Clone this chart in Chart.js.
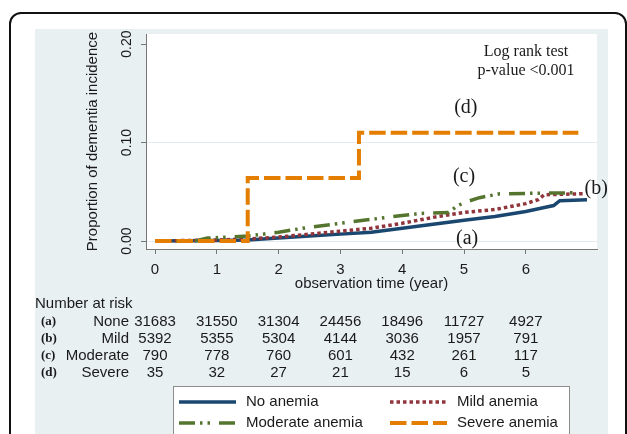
<!DOCTYPE html>
<html>
<head>
<meta charset="utf-8">
<script src="https://cdn.jsdelivr.net/npm/chart.js@4.4.0/dist/chart.umd.min.js"></script>
<style>
  html, body { margin: 0; padding: 0; background: #fff; }
  #wrap { width: 627px; height: 434px; }
</style>
</head>
<body>
<div id="wrap"><canvas id="kmChart" width="627" height="434"></canvas></div>
<script>
// Cumulative dementia incidence by anemia group
const noneTime = [0, 1, 1.5, 2, 2.5, 3, 3.5, 4, 4.5, 5, 5.5, 6, 6.3, 6.45, 6.55, 6.99];
const noneProp = [0, 0.0005, 0.001, 0.003, 0.005, 0.007, 0.009, 0.013, 0.017, 0.021, 0.025, 0.030, 0.034, 0.036, 0.041, 0.042];

const mildTime = [0, 1, 1.5, 2, 2.5, 3, 3.5, 4, 4.5, 5, 5.5, 6, 6.2, 6.3, 6.93];
const mildProp = [0, 0.001, 0.002, 0.004, 0.007, 0.010, 0.013, 0.018, 0.024, 0.029, 0.032, 0.038, 0.042, 0.047, 0.048];

const moderateTime = [0, 0.65, 0.85, 1.5, 2, 2.5, 3, 3.5, 4, 4.3, 4.75, 4.9, 5.05, 5.25, 5.58, 6.83];
const moderateProp = [0, 0, 0.003, 0.005, 0.009, 0.014, 0.018, 0.022, 0.026, 0.028, 0.029, 0.036, 0.040, 0.044, 0.048, 0.049];

const severeTime = [0, 1.5, 3.3, 6.85];
const severeProp = [0, 0.064, 0.110, 0.110];

// axis ticks
const xTicks = [0, 1, 2, 3, 4, 5, 6];
const yTicks = [0, 0.1, 0.2];

// number at risk table
const riskTimes = [0, 1, 2, 3, 4, 5, 6];
const riskTags = ['(a)', '(b)', '(c)', '(d)'];
const riskNames = ['None', 'Mild', 'Moderate', 'Severe'];
const riskNone = [31683, 31550, 31304, 24456, 18496, 11727, 4927];
const riskMild = [5392, 5355, 5304, 4144, 3036, 1957, 791];
const riskModerate = [790, 778, 760, 601, 432, 261, 117];
const riskSevere = [35, 32, 27, 21, 15, 6, 5];

const sans = "'Liberation Sans', Arial, sans-serif";
const serif = "'Liberation Serif', 'Times New Roman', serif";
const ink = '#1a1a1a';

function toPoints(xs, ys) {
    return xs.map((x, i) => ({ x: x, y: ys[i] }));
}

// frame, shaded graph region and white plot region
const backdropPlugin = {
    id: 'backdrop',
    beforeDraw(chart) {
        const ctx = chart.ctx;
        const a = chart.chartArea;
        ctx.save();
        ctx.fillStyle = '#fff';
        ctx.fillRect(0, 0, chart.width, chart.height);
        ctx.strokeStyle = '#111';
        ctx.lineWidth = 2;
        ctx.beginPath();
        ctx.roundRect(10, 13, 616, 450, 11);
        ctx.stroke();
        ctx.fillStyle = '#e9f0f2';
        ctx.fillRect(35, 29, 573, 420);
        ctx.fillStyle = '#fff';
        ctx.fillRect(a.left, a.top, a.right - a.left, a.bottom - a.top);
        ctx.restore();
    }
};

// curve tags, log-rank note, risk table and boxed legend
const overlayPlugin = {
    id: 'overlay',
    afterDraw(chart) {
        const ctx = chart.ctx;
        const xs = chart.scales.x;
        const ys = chart.scales.y;
        ctx.save();
        ctx.fillStyle = ink;
        ctx.textAlign = 'center';
        ctx.textBaseline = 'middle';

        ctx.font = '16px ' + serif;
        ctx.fillText('Log rank test', 526, 52);
        ctx.fillText('p-value <0.001', 526, 71);

        const tags = [['(d)', 5.03, 0.135], ['(c)', 5.0, 0.065], ['(b)', 7.14, 0.053], ['(a)', 5.05, 0.002]];
        ctx.font = '20px ' + serif;
        tags.forEach(t => ctx.fillText(t[0], xs.getPixelForValue(t[1]), ys.getPixelForValue(t[2])));

        // Number at risk
        ctx.font = '15px ' + sans;
        ctx.textAlign = 'left';
        ctx.fillText('Number at risk', 35, 304);
        const rows = [riskNone, riskMild, riskModerate, riskSevere];
        rows.forEach((counts, r) => {
            const y = 322 + r * 17;
            ctx.font = 'bold 13px ' + serif;
            ctx.textAlign = 'left';
            ctx.fillText(riskTags[r], 41, y);
            ctx.font = '15px ' + sans;
            ctx.textAlign = 'right';
            ctx.fillText(riskNames[r], 129, y);
            ctx.textAlign = 'center';
            counts.forEach((n, i) => ctx.fillText(String(n), xs.getPixelForValue(riskTimes[i]), y));
        });

        // Legend box
        ctx.fillStyle = '#fff';
        ctx.strokeStyle = '#8c8c8c';
        ctx.lineWidth = 1;
        ctx.fillRect(173.5, 386.5, 396, 60);
        ctx.strokeRect(173.5, 386.5, 396, 60);
        const slots = [[179, 402], [390, 402], [179, 423], [390, 423]];
        chart.data.datasets.forEach((ds, i) => {
            const sx = slots[i][0], sy = slots[i][1];
            ctx.strokeStyle = ds.borderColor;
            ctx.lineWidth = ds.borderWidth;
            ctx.lineCap = 'butt';
            ctx.setLineDash(ds.borderDash || []);
            ctx.beginPath();
            ctx.moveTo(sx, sy);
            ctx.lineTo(sx + 57, sy);
            ctx.stroke();
            ctx.setLineDash([]);
            ctx.fillStyle = ink;
            ctx.font = '15px ' + sans;
            ctx.textAlign = 'left';
            ctx.fillText(ds.label, sx + 67, sy);
        });
        ctx.restore();
    }
};

const ctx = document.getElementById('kmChart').getContext('2d');
const kmChart = new Chart(ctx, {
    type: 'line',
    data: {
        datasets: [
            {
                label: 'No anemia',
                data: toPoints(noneTime, noneProp),
                borderColor: '#1a476f',
                borderWidth: 3.5,
                order: 4
            },
            {
                label: 'Mild anemia',
                data: toPoints(mildTime, mildProp),
                borderColor: '#90353b',
                borderWidth: 3.5,
                borderDash: [3.5, 3],
                order: 3
            },
            {
                label: 'Moderate anemia',
                data: toPoints(moderateTime, moderateProp),
                borderColor: '#55752f',
                borderWidth: 3.5,
                borderDash: [16, 5, 2.5, 5, 2.5, 9],
                order: 2
            },
            {
                label: 'Severe anemia',
                data: toPoints(severeTime, severeProp),
                borderColor: '#e37e00',
                borderWidth: 4,
                borderDash: [16.5, 5],
                stepped: true,
                order: 1
            }
        ]
    },
    options: {
        responsive: false,
        animation: false,
        devicePixelRatio: 1,
        layout: { padding: { left: 0, top: 34, right: 30, bottom: 0 } },
        elements: {
            point: { radius: 0 },
            line: { fill: false, tension: 0, borderCapStyle: 'butt', borderJoinStyle: 'miter' }
        },
        plugins: {
            legend: { display: false },
            tooltip: { enabled: false }
        },
        scales: {
            x: {
                type: 'linear',
                min: -0.146,
                max: 7.152,
                afterBuildTicks: s => { s.ticks = xTicks.map(v => ({ value: v })); },
                afterFit: s => { s.height = 185; },
                grid: { drawOnChartArea: false, drawTicks: true, tickLength: 5, tickColor: '#777', tickWidth: 1 },
                border: { display: true, color: '#777', width: 1 },
                ticks: {
                    font: { family: sans, size: 15 },
                    color: ink,
                    padding: 7,
                    maxRotation: 0,
                    autoSkip: false,
                    callback: v => String(v)
                },
                title: {
                    display: true,
                    text: 'observation time (year)',
                    font: { family: sans, size: 15 },
                    color: ink,
                    padding: { top: 0, bottom: 141 }
                }
            },
            y: {
                type: 'linear',
                min: -0.0081,
                max: 0.2102,
                afterBuildTicks: s => { s.ticks = yTicks.map(v => ({ value: v })); },
                afterFit: s => { s.width = 146; },
                grid: {
                    color: c => (c.tick && c.tick.value < 0.15) ? '#e2eaed' : 'rgba(0,0,0,0)',
                    lineWidth: 1,
                    tickColor: '#777',
                    tickLength: 5
                },
                border: { display: true, color: '#777', width: 1 },
                ticks: {
                    font: { family: sans, size: 14 },
                    color: ink,
                    padding: 0,
                    minRotation: 90,
                    maxRotation: 90,
                    crossAlign: 'center',
                    callback: v => v.toFixed(2)
                },
                title: {
                    display: true,
                    text: 'Proportion of dementia incidence',
                    font: { family: sans, size: 15 },
                    color: ink,
                    padding: { top: 84, bottom: 0 }
                }
            }
        }
    },
    plugins: [backdropPlugin, overlayPlugin]
});
</script>
</body>
</html>
